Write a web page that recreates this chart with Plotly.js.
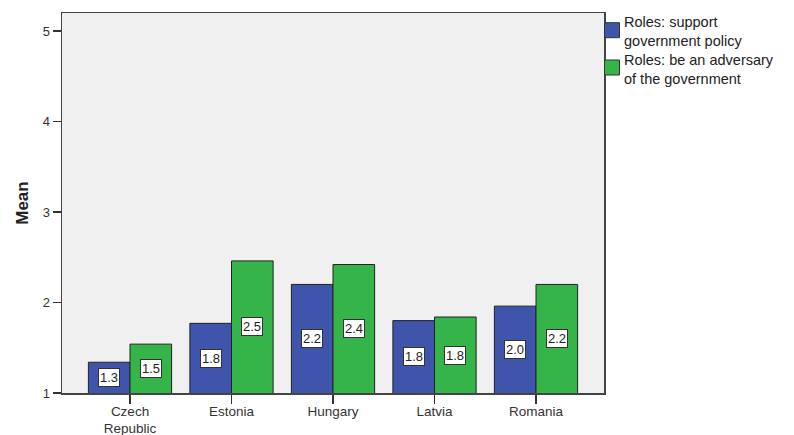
<!DOCTYPE html>
<html>
<head>
<meta charset="utf-8">
<script src="https://cdn.plot.ly/plotly-3.0.1.min.js"></script>
<style>html,body{margin:0;padding:0;background:#fff;}#chart{width:794px;height:435px;}</style>
</head>
<body>
<div id="chart"></div>
<script>
// ---- data ----
const countries = ["Czech<br>Republic", "Estonia", "Hungary", "Latvia", "Romania"];
const supportPolicy = [1.34, 1.77, 2.20, 1.80, 1.96];
const adversary = [1.54, 2.46, 2.42, 1.84, 2.20];
const seriesNames = ["Roles: support<br>government policy", "Roles: be an adversary<br>of the government"];
const seriesColors = ["#3E55AB", "#35B44A"];
const yTicks = [1, 2, 3, 4, 5];

// ---- layout constants ----
const W = 794, H = 435;
const M = {l: 62, r: 190, t: 13, b: 42};
const PW = W - M.l - M.r, PH = H - M.t - M.b;
const FONT = '"Liberation Sans", Arial, sans-serif';
const px2x = p => (p - M.l) / PW;
const px2y = p => (H - M.b - p) / PH;
const yMin = 1;
const barHalf = 0.205;

const idx = countries.map((_, i) => i);
const traces = [supportPolicy, adversary].map((vals, k) => ({
  type: 'bar',
  name: seriesNames[k],
  x: idx,
  y: vals,
  marker: {color: seriesColors[k], line: {color: '#222', width: 1}},
  showlegend: false,
  hoverinfo: 'none'
}));

const annotations = [];
[supportPolicy, adversary].forEach((vals, k) => {
  vals.forEach((v, i) => {
    annotations.push({
      x: i + (k === 0 ? -barHalf : barHalf), y: (yMin + v) / 2,
      xref: 'x', yref: 'y', showarrow: false,
      text: v.toFixed(1),
      font: {family: FONT, size: 13, color: '#222'},
      bgcolor: '#fff', bordercolor: '#333', borderwidth: 1, borderpad: 1
    });
  });
});

// custom legend
const shapes = [];
const legendTop = [22.7, 60];
const legendTextCenter = [31, 69];
seriesNames.forEach((name, k) => {
  const y0 = legendTop[k];
  shapes.push({type: 'rect', xref: 'paper', yref: 'paper',
    x0: px2x(604.5), x1: px2x(619.5), y0: px2y(y0), y1: px2y(y0 + 15),
    fillcolor: seriesColors[k], line: {color: '#333', width: 1}});
  annotations.push({
    xref: 'paper', yref: 'paper', x: px2x(622), y: px2y(legendTextCenter[k]),
    xanchor: 'left', yanchor: 'middle', align: 'left', showarrow: false, text: name,
    font: {family: FONT, size: 14.5, color: '#222'}
  });
});

const layout = {
  width: W, height: H,
  margin: M,
  paper_bgcolor: '#fff', plot_bgcolor: '#F0F0F0',
  font: {family: FONT, color: '#222'},
  barmode: 'group', bargap: 0.18, bargroupgap: 0,
  showlegend: false,
  xaxis: {
    type: 'linear',
    range: [-0.67, 4.67],
    tickvals: idx, ticktext: countries,
    ticks: 'outside', ticklen: 9, tickcolor: '#333', tickwidth: 1.5,
    ticklabelstandoff: -4,
    showline: true, linecolor: '#444', linewidth: 1.5, mirror: true,
    showgrid: false, zeroline: false,
    tickfont: {family: FONT, size: 13.5, color: '#333'}
  },
  yaxis: {
    range: [1, 5.2],
    tickvals: yTicks,
    ticks: 'outside', ticklen: 8, tickcolor: '#333', tickwidth: 1.5,
    showline: true, linecolor: '#444', linewidth: 1.5, mirror: true,
    showgrid: false, zeroline: false, automargin: true,
    tickfont: {family: FONT, size: 13, color: '#333'},
    title: {text: '<b>Mean</b>', standoff: 9, font: {family: FONT, size: 17, color: '#222'}}
  },
  annotations: annotations,
  shapes: shapes
};

Plotly.newPlot('chart', traces, layout, {staticPlot: true, displayModeBar: false});
</script>
</body>
</html>
